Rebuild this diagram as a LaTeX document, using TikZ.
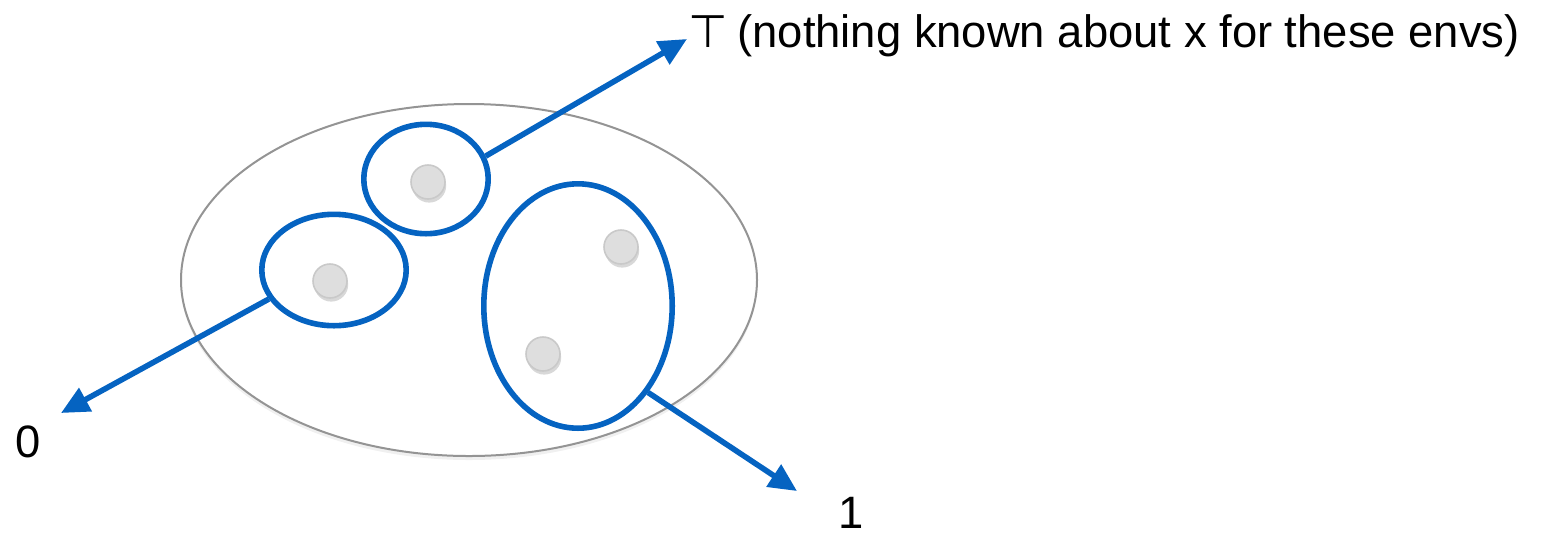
\documentclass[tikz,border=0pt]{standalone}
\usepackage{fontspec}
\setmainfont{Liberation Sans}
\newfontfamily\symfont{DejaVu Sans}
\usepackage{xcolor}
\usetikzlibrary{arrows.meta,positioning,shapes.geometric,shadows}
\definecolor{envblue}{RGB}{5,99,193}

\begin{document}
\begin{tikzpicture}[x=.5pt,y=-.5pt,>={Triangle[length=14pt,width=12.8pt]},
  world/.style={ellipse,draw=black!42,line width=1pt,fill=white,inner sep=0pt,
    drop shadow={opacity=.12,shadow xshift=0pt,shadow yshift=-2pt}},
  env/.style={ellipse,draw=envblue,line width=2.8pt,inner sep=0pt},
  st/.style={circle,draw=black!21,fill=black!13,line width=.8pt,minimum size=17pt,inner sep=0pt,
    drop shadow={opacity=.3,shadow xshift=.6pt,shadow yshift=-1.8pt}},
  arr/.style={->,envblue,line width=2.8pt},
  lbl/.style={font=\fontsize{22.7}{27}\selectfont,inner sep=0pt}]
\useasboundingbox (0,0) rectangle (1546,537);
% the set of all envs
\node[world,minimum width=288pt,minimum height=176pt] (all) at (469,280) {};
% groups of envs
\node[env,minimum width=62.2pt,minimum height=54.7pt] (top) at (426,179) {};
\node[env,minimum width=72.2pt,minimum height=55.7pt] (left) at (334,270) {};
\node[env,minimum width=94.2pt,minimum height=122.2pt] (right) at (578,306) {};
% envs
\node[st] (e1) at (428,182) {};
\node[st] (e2) at (330,281) {};
\node[st] (e3) at (621,247) {};
\node[st] (e4) at (543,354) {};
% values
\node[lbl,anchor=base] (vtop) at (708,47) {\symfont ⊤};
\node[lbl,anchor=base west] (note) at (737,47) {(nothing known about x for these envs)};
\node[lbl,anchor=base] (vzero) at (28,457) {0};
\node[lbl,anchor=base] (vone) at (851,528) {1};
\coordinate (ttop) at (687,39);
\coordinate (tzero) at (61,413);
\coordinate (tone) at (797,491);
\draw[arr] (top.21) -- (ttop);
\draw[arr] (left.204) -- (tzero);
\draw[arr] (right.-51) -- (tone);
\end{tikzpicture}
\end{document}
